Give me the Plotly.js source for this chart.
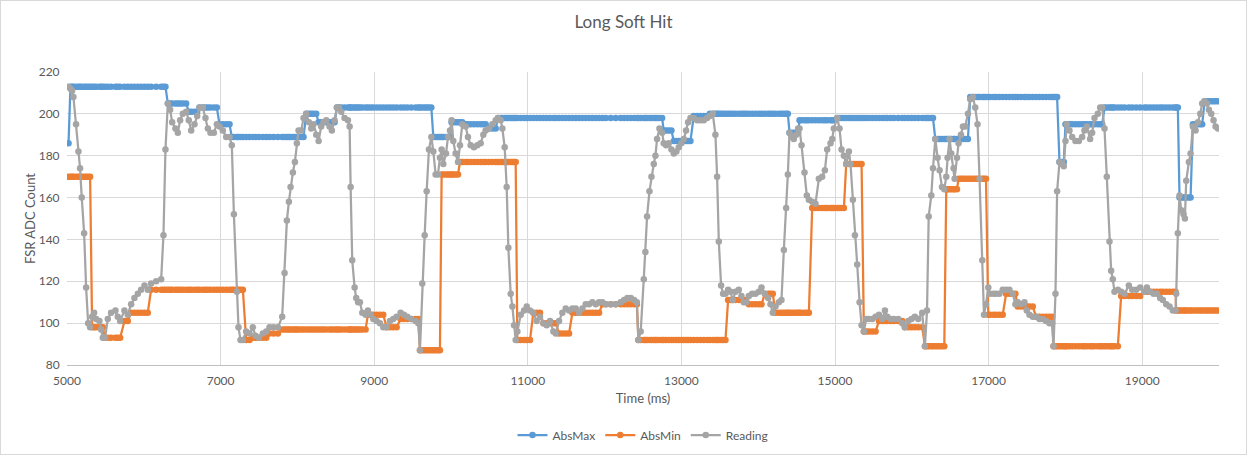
<!DOCTYPE html>
<html><head><meta charset="utf-8">
<script src="https://cdn.plot.ly/plotly-3.0.1.min.js"></script>
<style>html,body{margin:0;padding:0;background:#fff}#wrap{position:relative;width:1247px;height:455px}#chart{width:1247px;height:455px}#frame{position:absolute;left:0;top:0;width:1247px;height:455px;box-sizing:border-box;border:1px solid #d9d9d9;pointer-events:none}</style>
</head><body><div id="wrap"><div id="chart"></div><div id="frame"></div></div>
<script>
// Reading samples: [time (ms), FSR ADC count]
const readings = [
[5020,213],[5045,212],[5066,211],[5084,208],[5118,195],[5149,182],[5170,174],[5192,160],[5223,143],[5249,117],[5275,100],[5301,98],[5327,103],[5353,105],[5379,102],[5422,101],[5444,97],[5466,93],[5496,93],[5531,102],[5574,105],[5631,106],[5661,103],[5692,101],[5748,106],[5791,104],[5835,109],[5878,112],[5922,114],[5965,116],[6009,118],[6052,116],[6095,119],[6161,120],[6226,121],[6256,142],[6282,183],[6313,205],[6343,202],[6369,196],[6412,193],[6443,191],[6473,197],[6508,200],[6551,201],[6586,197],[6617,192],[6660,195],[6695,199],[6725,203],[6769,203],[6803,198],[6834,193],[6868,191],[6912,191],[6951,195],[6986,194],[7029,192],[7073,189],[7116,189],[7146,185],[7173,152],[7212,115],[7233,98],[7259,92],[7290,92],[7333,96],[7377,95],[7420,98],[7455,94],[7498,93],[7550,95],[7594,96],[7637,98],[7689,98],[7746,98],[7802,103],[7833,124],[7863,149],[7889,158],[7911,165],[7941,172],[7967,177],[7993,186],[8015,192],[8050,192],[8080,198],[8115,200],[8150,196],[8180,193],[8210,195],[8245,190],[8276,187],[8310,194],[8341,196],[8376,197],[8419,194],[8449,192],[8484,197],[8515,203],[8540,203],[8571,201],[8614,198],[8658,197],[8680,194],[8693,165],[8714,130],[8745,117],[8766,112],[8790,110],[8814,110],[8845,105],[8888,104],[8918,106],[8953,104],[8988,102],[9031,101],[9075,100],[9118,98],[9162,98],[9205,101],[9248,102],[9292,103],[9344,105],[9387,104],[9431,103],[9483,102],[9539,101],[9574,100],[9596,87],[9626,119],[9657,142],[9683,163],[9713,183],[9744,189],[9770,182],[9800,171],[9830,171],[9856,179],[9878,183],[9900,176],[9935,181],[9961,189],[9987,192],[10008,197],[10030,187],[10060,181],[10091,177],[10117,185],[10147,195],[10191,194],[10221,189],[10256,185],[10299,184],[10343,185],[10386,186],[10421,190],[10451,192],[10495,193],[10538,195],[10582,197],[10612,198],[10647,197],[10669,193],[10699,184],[10725,165],[10747,136],[10777,114],[10799,108],[10821,99],[10842,92],[10864,96],[10908,104],[10951,106],[10986,108],[11029,106],[11072,105],[11116,101],[11159,103],[11203,100],[11246,99],[11290,101],[11333,96],[11364,95],[11407,101],[11450,105],[11494,107],[11537,106],[11581,107],[11624,107],[11667,105],[11711,107],[11754,109],[11798,109],[11841,110],[11885,109],[11928,110],[11972,110],[12015,109],[12080,109],[12145,109],[12210,110],[12254,111],[12297,112],[12341,112],[12384,111],[12420,110],[12440,92],[12470,96],[12510,121],[12531,134],[12553,151],[12584,163],[12610,170],[12640,176],[12662,180],[12683,188],[12714,193],[12749,191],[12770,186],[12801,185],[12835,186],[12870,183],[12901,181],[12935,182],[12966,184],[13000,186],[13031,188],[13061,192],[13087,196],[13118,198],[13161,198],[13205,197],[13248,197],[13291,197],[13335,198],[13370,199],[13409,200],[13443,190],[13465,170],[13487,139],[13517,118],[13543,114],[13574,114],[13608,116],[13639,115],[13669,111],[13704,115],[13747,116],[13782,113],[13812,110],[13843,110],[13878,113],[13921,114],[13965,114],[14008,115],[14043,117],[14086,114],[14130,112],[14160,109],[14190,105],[14225,108],[14269,110],[14303,111],[14334,135],[14364,155],[14386,171],[14408,191],[14434,189],[14464,188],[14494,190],[14520,193],[14538,193],[14564,185],[14603,172],[14633,161],[14660,159],[14703,158],[14746,157],[14790,169],[14833,170],[14868,173],[14898,183],[14942,186],[14964,188],[14985,193],[15029,198],[15059,193],[15085,183],[15116,180],[15146,176],[15181,182],[15202,176],[15233,159],[15259,142],[15289,128],[15320,110],[15346,99],[15376,96],[15406,102],[15441,102],[15485,102],[15528,103],[15572,104],[15615,102],[15650,106],[15680,103],[15724,102],[15767,102],[15823,102],[15876,100],[15910,98],[15954,101],[15997,102],[16040,103],[16084,102],[16136,105],[16171,89],[16198,106],[16220,151],[16254,161],[16276,174],[16306,188],[16336,179],[16362,173],[16393,165],[16423,164],[16449,170],[16466,179],[16492,188],[16514,181],[16544,174],[16557,169],[16588,179],[16609,186],[16640,190],[16666,194],[16696,194],[16731,200],[16761,207],[16796,208],[16826,203],[16856,195],[16882,169],[16918,130],[16940,104],[16966,109],[16996,117],[17019,114],[17063,114],[17098,114],[17141,114],[17184,116],[17228,116],[17271,116],[17315,114],[17349,109],[17380,110],[17423,109],[17467,110],[17497,106],[17532,104],[17575,103],[17619,103],[17662,102],[17706,102],[17749,101],[17793,100],[17827,100],[17845,89],[17871,114],[17892,163],[17923,177],[17953,176],[17979,175],[18001,187],[18018,195],[18053,192],[18088,189],[18131,187],[18175,187],[18218,189],[18248,192],[18279,194],[18322,188],[18348,191],[18379,198],[18422,200],[18453,203],[18479,203],[18509,193],[18539,170],[18574,139],[18596,125],[18617,121],[18639,115],[18683,116],[18726,115],[18770,114],[18826,118],[18870,116],[18922,116],[18974,117],[19030,115],[19061,117],[19104,115],[19148,114],[19191,114],[19234,112],[19269,111],[19313,109],[19356,108],[19399,106],[19434,106],[19443,114],[19464,143],[19486,161],[19508,154],[19538,152],[19556,150],[19573,168],[19608,177],[19630,181],[19660,194],[19695,192],[19725,196],[19756,200],[19781,205],[19812,206],[19842,205],[19868,202],[19899,200],[19929,197],[19955,194],[19986,193]
];
// AbsMax held values: [time the value starts (ms), value]
const absMaxSteps = [
[5000,186],[5040,213],[6310,205],[6565,201],[6720,203],[6985,195],[7135,189],[8110,200],[8250,196],[8512,203],[9760,189],[10005,196],[10156,195],[10468,193],[10612,198],[12762,192],[12892,187],[13150,199],[13340,200],[14405,191],[14530,197],[15020,198],[16300,188],[16760,208],[17920,177],[18000,195],[18490,203],[19480,160],[19660,195],[19800,206]
];
// AbsMin held values: [time the value starts (ms), value]
const absMinSteps = [
[5000,170],[5320,98],[5485,93],[5705,101],[5812,105],[6095,116],[7300,92],[7384,93],[7600,95],[7770,97],[8905,104],[9150,98],[9300,102],[9590,87],[9857,171],[10104,177],[10860,92],[11070,105],[11200,100],[11373,95],[11575,105],[11965,109],[12440,92],[13600,111],[13850,109],[14050,114],[14205,105],[14703,155],[15137,176],[15375,96],[15565,101],[15900,98],[16165,89],[16436,164],[16592,169],[16983,104],[17200,114],[17374,108],[17590,103],[17840,89],[18694,113],[18976,115],[19440,106]
];
const seriesNames = ['AbsMax','AbsMin','Reading'];
const seriesColors = ['#5B9BD5','#ED7D31','#A5A5A5'];

const time = readings.map(r => r[0]);
const readingVals = readings.map(r => r[1]);
function heldAt(steps, t){ let v = steps[0][1]; for (const s of steps){ if (t >= s[0]) v = s[1]; } return v; }
const absMaxVals = time.map(t => heldAt(absMaxSteps, t));
const absMinVals = time.map(t => heldAt(absMinSteps, t));

const FONT = 'Lato, "Open Sans", sans-serif';
const mk = (name, y, color) => ({
  type:'scatter', mode:'lines+markers', name, x: time, y,
  line:{color, width:2.25}, marker:{color, size:6.5, symbol:'circle'}
});
const data = [
  mk(seriesNames[0], absMaxVals, seriesColors[0]),
  mk(seriesNames[1], absMinVals, seriesColors[1]),
  mk(seriesNames[2], readingVals, seriesColors[2])
];
const layout = {
  width:1247, height:455,
  margin:{l:67, r:28, t:72, b:90},
  paper_bgcolor:'#fff', plot_bgcolor:'#fff',
  font:{family:FONT, color:'#595959', size:12},
  title:{text:'Long Soft Hit', font:{family:FONT, size:17, color:'#595959'}, x:0.5, xanchor:'center', y:1-22/455, yanchor:'middle', yref:'container'},
  showlegend:true,
  legend:{orientation:'h', x:0.5, xanchor:'center', y:20/455, yanchor:'middle', yref:'container', font:{size:12, color:'#595959'}, itemwidth:30, traceorder:'normal'},
  xaxis:{range:[5000,20000], tick0:5000, dtick:2000, tickformat:'d', showgrid:true, gridcolor:'#d9d9d9', gridwidth:1,
    zeroline:false, showline:true, linecolor:'#bfbfbf', linewidth:1, ticks:'outside', ticklen:5, tickcolor:'rgba(0,0,0,0)',
    tickfont:{size:12, color:'#595959'}, title:{text:'Time (ms)', font:{size:13, color:'#595959'}, standoff:6}},
  yaxis:{range:[80,220], tick0:80, dtick:20, tickformat:'d', showgrid:true, gridcolor:'#d9d9d9', gridwidth:1,
    zeroline:false, showline:false, ticks:'outside', ticklen:4, tickcolor:'rgba(0,0,0,0)',
    tickfont:{size:12, color:'#595959'}, title:{text:'FSR ADC Count', font:{size:13, color:'#595959'}, standoff:0}}
};
Plotly.newPlot('chart', data, layout, {displayModeBar:false, staticPlot:true});
</script></body></html>
